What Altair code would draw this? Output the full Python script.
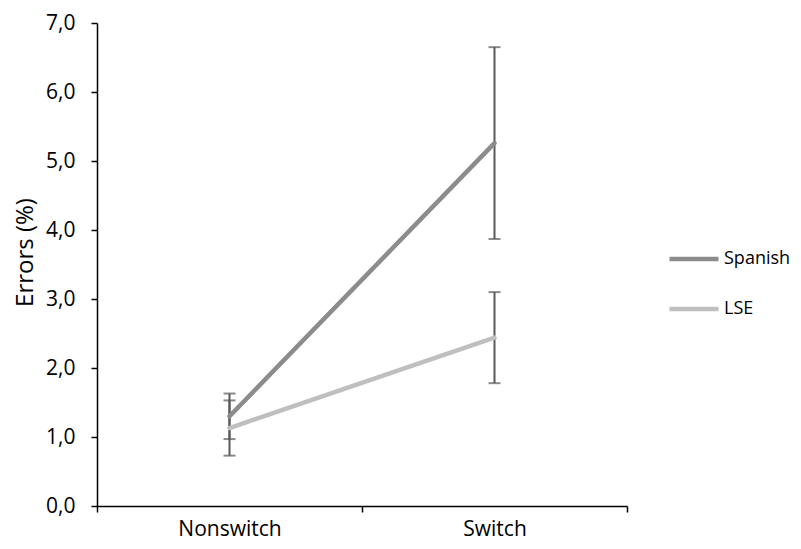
import altair as alt
import pandas as pd

categories = ["Nonswitch", "Switch"]
series_names = ["Spanish", "LSE"]
spanish_values = [1.30, 5.26]
spanish_errors = [0.33, 1.39]
lse_values = [1.13, 2.44]
lse_errors = [0.40, 0.66]
y_ticks = [0, 1, 2, 3, 4, 5, 6, 7]

rows = []
for name, vals, errs in [("Spanish", spanish_values, spanish_errors),
                         ("LSE", lse_values, lse_errors)]:
    for c, v, e in zip(categories, vals, errs):
        rows.append({"cat": c, "series": name, "value": v, "lo": v - e, "hi": v + e})
df = pd.DataFrame(rows)

FONT = "Open Sans"
FS = 21

x = alt.X("cat:N", sort=categories,
          scale=alt.Scale(paddingInner=0, paddingOuter=0),
          axis=alt.Axis(title=None, tickBand="extent", labelAngle=0,
                        labelAlign="center", labelBaseline="top",
                        domainColor="black", domainWidth=1.5, tickColor="black",
                        tickWidth=1.5, tickSize=6, labelPadding=6,
                        labelFont=FONT, labelFontSize=FS, labelColor="black"))
y_scale = alt.Scale(domain=[0, 7], nice=False, zero=True)
y_axis = alt.Axis(title="Errors (%)", values=y_ticks, grid=False,
                  labelExpr="replace(format(datum.value, '.1f'), '.', ',')",
                  domainColor="black", domainWidth=1.5, tickColor="black",
                  tickWidth=1.5, tickSize=6, labelPadding=16,
                  labelFont=FONT, labelFontSize=FS, labelColor="black",
                  titleFont=FONT, titleFontSize=24, titleFontWeight="normal",
                  titleColor="black", titleAngle=-90, titleX=-72, titleY=229,
                  titleBaseline="middle", titleAlign="center")

color = alt.Color("series:N",
                  scale=alt.Scale(domain=series_names, range=["#8c8c8c", "#bfbfbf"]),
                  legend=alt.Legend(title=None, orient="none", legendX=570, legendY=209,
                                    symbolType="stroke", symbolSize=2401,
                                    symbolStrokeWidth=4.5, rowPadding=14,
                                    labelOffset=3, labelFont=FONT, labelFontSize=18,
                                    labelColor="black"))

lines = alt.Chart(df).mark_line(strokeWidth=4.5, strokeCap="round").encode(
    x=x,
    y=alt.Y("value:Q", scale=y_scale, axis=y_axis),
    color=color,
    detail="series:N",
)

bars = alt.Chart(df).mark_rule(color="#595959", strokeWidth=2).encode(
    x=alt.X("cat:N", sort=categories),
    y=alt.Y("lo:Q", scale=y_scale),
    y2="hi:Q",
)
caps_lo = alt.Chart(df).mark_tick(color="#595959", thickness=2, size=12, orient="horizontal").encode(
    x=alt.X("cat:N", sort=categories),
    y=alt.Y("lo:Q", scale=y_scale),
)
caps_hi = alt.Chart(df).mark_tick(color="#595959", thickness=2, size=12, orient="horizontal").encode(
    x=alt.X("cat:N", sort=categories),
    y=alt.Y("hi:Q", scale=y_scale),
)

chart = alt.layer(bars, caps_lo, caps_hi, lines).properties(
    width=530, height=483,
    background="white",
    autosize=alt.AutoSizeParams(type="none"),
    padding={"left": 89, "top": 15, "right": 166, "bottom": 35},
).configure_view(stroke=None)

chart.save("out.html", embed_options={"renderer": "svg", "actions": False})
